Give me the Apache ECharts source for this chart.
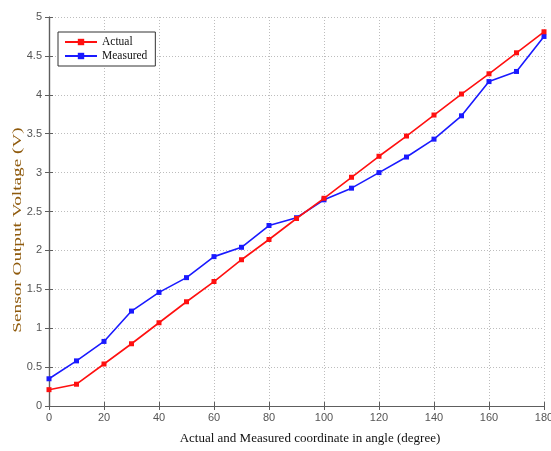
<!DOCTYPE html>
<html>
<head>
<meta charset="utf-8">
<script src="https://cdn.jsdelivr.net/npm/echarts@6/dist/echarts.min.js"></script>
<style>
  html, body { margin: 0; padding: 0; background: #fff; }
  #chart { width: 551px; height: 451px; }
</style>
</head>
<body>
<div id="chart"></div>
<script>
// Angle positions (degrees)
const angles = [0, 10, 20, 30, 40, 50, 60, 70, 80, 90, 100, 110, 120, 130, 140, 150, 160, 170, 180];
// Sensor output voltage (V)
const actual = [0.21, 0.28, 0.54, 0.80, 1.07, 1.34, 1.60, 1.88, 2.14, 2.41, 2.67, 2.94, 3.21, 3.47, 3.74, 4.01, 4.27, 4.54, 4.81];
const measured = [0.35, 0.58, 0.83, 1.22, 1.46, 1.65, 1.92, 2.04, 2.32, 2.42, 2.65, 2.80, 3.00, 3.20, 3.43, 3.73, 4.17, 4.30, 4.75];
// Axis ranges
const xTicks = { min: 0, max: 180, step: 20 };
const yTicks = { min: 0, max: 5, step: 0.5 };
// Axis titles
const xTitle = 'Actual and Measured coordinate in angle (degree)';
const yTitle = 'Sensor Output Voltage (V)';

const pairs = (xs, ys) => xs.map((x, i) => [x, ys[i]]);

const frame = '#5e5e5e';
const labelColor = '#555';
const serif = '"Liberation Serif", "DejaVu Serif", serif';
const sans = '"Liberation Sans", Arial, sans-serif';

const chart = echarts.init(document.getElementById('chart'), null, { renderer: 'canvas' });
chart.setOption({
  animation: false,
  backgroundColor: '#fff',
  grid: { left: 49, right: 7, top: 17, bottom: 45, containLabel: false, outerBoundsMode: 'none' },
  graphic: [{
    // vertical title, stretched along its length
    type: 'text',
    x: 18, y: 230,
    rotation: Math.PI / 2,
    scaleX: 1.48,
    style: {
      text: yTitle,
      font: '13px ' + serif,
      fill: '#8f5a0c',
      align: 'center',
      verticalAlign: 'middle'
    }
  }, {
    type: 'text',
    x: 310, y: 439,
    style: {
      text: xTitle,
      font: '13px ' + serif,
      fill: '#111',
      align: 'center',
      verticalAlign: 'middle'
    }
  }],
  legend: {
    left: 58, top: 32,
    orient: 'vertical',
    backgroundColor: '#fff',
    borderColor: '#333',
    borderWidth: 1,
    borderRadius: 0,
    padding: [4, 8, 4, 6],
    itemGap: 2,
    itemWidth: 32,
    itemHeight: 8,
    textStyle: { fontFamily: serif, fontSize: 11.5, color: '#111' },
    data: ['Actual', 'Measured']
  },
  xAxis: [{
    type: 'value',
    min: xTicks.min, max: xTicks.max, interval: xTicks.step,
    axisLine: { lineStyle: { color: frame, width: 1.2 } },
    axisTick: { inside: true, length: 4, lineStyle: { color: frame } },
    axisLabel: { fontFamily: sans, fontSize: 11, color: labelColor, margin: 6 },
    splitLine: { show: true, lineStyle: { color: '#bdbdbd', type: [1, 2], width: 1 } }
  }, {
    type: 'value', position: 'top',
    min: xTicks.min, max: xTicks.max, interval: xTicks.step,
    axisLine: { show: true, lineStyle: { color: frame, width: 1.2 } },
    axisTick: { inside: true, length: 4, lineStyle: { color: frame } },
    axisLabel: { show: false },
    splitLine: { show: false }
  }],
  yAxis: [{
    type: 'value',
    min: yTicks.min, max: yTicks.max, interval: yTicks.step,
    axisLine: { show: true, lineStyle: { color: frame, width: 1.2 } },
    axisTick: { show: true, inside: true, length: 4, lineStyle: { color: frame } },
    axisLabel: { fontFamily: sans, fontSize: 11, color: labelColor, margin: 7 },
    splitLine: { show: true, lineStyle: { color: '#bdbdbd', type: [1, 2], width: 1 } }
  }, {
    type: 'value', position: 'right',
    min: yTicks.min, max: yTicks.max, interval: yTicks.step,
    axisLine: { show: true, lineStyle: { color: frame, width: 1.2 } },
    axisTick: { show: true, inside: true, length: 4, lineStyle: { color: frame } },
    axisLabel: { show: false },
    splitLine: { show: false }
  }],
  series: [{
    name: 'Actual',
    type: 'line',
    data: pairs(angles, actual),
    color: '#ff1010',
    lineStyle: { width: 1.6 },
    symbol: 'rect', symbolSize: 5, showSymbol: true,
    itemStyle: { color: '#ff1010' },
    z: 3
  }, {
    name: 'Measured',
    type: 'line',
    data: pairs(angles, measured),
    color: '#1a1aff',
    lineStyle: { width: 1.6 },
    symbol: 'rect', symbolSize: 5, showSymbol: true,
    itemStyle: { color: '#1a1aff' },
    z: 2
  }]
});
</script>
</body>
</html>
